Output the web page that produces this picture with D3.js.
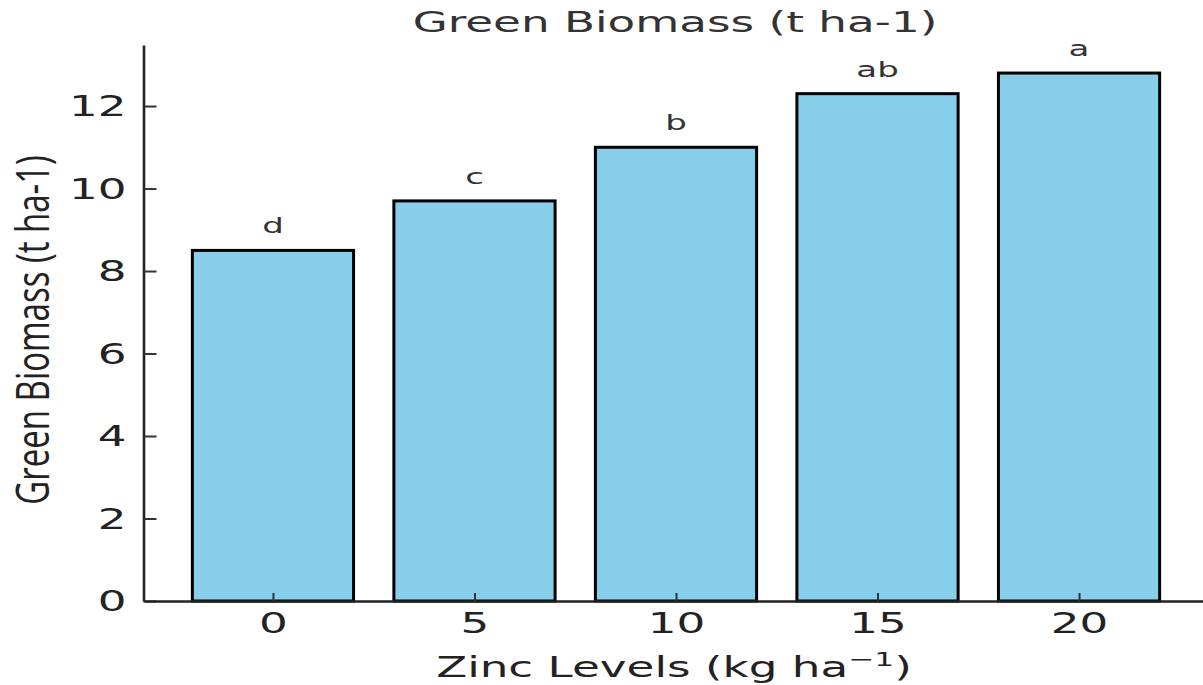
<!DOCTYPE html>
<html>
<head>
<meta charset="utf-8">
<script src="https://cdn.jsdelivr.net/npm/d3@7"></script>
<style>
  html, body { margin: 0; padding: 0; background: #fff; }
  svg { display: block; }
</style>
</head>
<body>
<svg id="chart" width="1203" height="685"></svg>
<script>
// ---- data ----
const zincLevels = ["0", "5", "10", "15", "20"];
const biomass = [8.5, 9.7, 11.0, 12.3, 12.8];
const sigLetters = ["d", "c", "b", "ab", "a"];
const yTickValues = [0, 2, 4, 6, 8, 10, 12];
const titleText = "Green Biomass (t ha-1)";
const yLabelText = "Green Biomass (t ha-1)";

// ---- layout ----
const W = 1203, H = 685;
const SX = 1.56; // horizontal stretch of text in the reference
const svg = d3.select("#chart");

const x = d3.scaleLinear().domain([-0.64, 4.64]).range([144, 1208]);
const y = d3.scaleLinear().domain([0, 13.48]).range([601, 45]);
const barW = 0.8;

// bars
svg.append("g").selectAll("rect")
  .data(biomass)
  .join("rect")
  .attr("x", (d, i) => x(i - barW / 2))
  .attr("width", (d, i) => x(i + barW / 2) - x(i - barW / 2))
  .attr("y", d => y(d))
  .attr("height", d => y(0) - y(d))
  .attr("fill", "#87CEEB")
  .attr("stroke", "#000")
  .attr("stroke-width", 3);

// significance letters
svg.append("g").selectAll("text")
  .data(biomass)
  .join("text")
  .attr("transform", (d, i) => `translate(${x(i)},${y(d) - 17}) scale(1.62,1)`)
  .attr("text-anchor", "middle")
  .attr("font-family", "DejaVu Sans")
  .attr("font-size", 21)
  .attr("fill", "#333")
  .text((d, i) => sigLetters[i]);

// y axis
const yAxis = svg.append("g")
  .attr("transform", `translate(${x(-0.64) - 0.5},0)`)
  .call(d3.axisLeft(y).tickValues(yTickValues).tickFormat(d3.format("d")).tickSize(-13).tickSizeOuter(0));
yAxis.select(".domain").attr("stroke", "#222").attr("stroke-width", 2.6);
yAxis.selectAll(".tick line").attr("stroke", "#333").attr("stroke-width", 2);
yAxis.selectAll(".tick text")
  .attr("x", null).attr("dy", null)
  .attr("transform", "translate(-17,0) scale(" + SX + ",1)")
  .attr("dominant-baseline", "central")
  .attr("text-anchor", "end")
  .attr("font-family", "DejaVu Sans")
  .attr("font-size", 29)
  .attr("fill", "#222");

// x axis
const xAxis = svg.append("g")
  .attr("transform", `translate(0,${y(0)})`)
  .call(d3.axisBottom(x).tickValues(d3.range(zincLevels.length)).tickFormat(i => zincLevels[i]).tickSize(-8).tickSizeOuter(0));
xAxis.select(".domain").attr("stroke", "#222").attr("stroke-width", 2.6);
xAxis.selectAll(".tick line").attr("stroke", "#333").attr("stroke-width", 2);
xAxis.selectAll(".tick text")
  .attr("y", null).attr("dy", null)
  .attr("transform", "translate(0,32) scale(" + SX + ",1)")
  .attr("text-anchor", "middle")
  .attr("font-family", "DejaVu Sans")
  .attr("font-size", 29)
  .attr("fill", "#222");
svg.selectAll("g").attr("font-family", null);

// title
svg.append("text")
  .attr("transform", `translate(675,32) scale(${SX},1)`)
  .attr("text-anchor", "middle")
  .attr("font-family", "DejaVu Sans")
  .attr("font-size", 29)
  .attr("fill", "#333")
  .text(titleText);

// x label
const xl = svg.append("text")
  .attr("transform", `translate(674,677) scale(${SX},1)`)
  .attr("text-anchor", "middle")
  .attr("font-family", "DejaVu Sans")
  .attr("font-size", 29)
  .attr("fill", "#222");
xl.append("tspan").text("Zinc Levels (kg ha");
xl.append("tspan").attr("font-size", 20).attr("dy", -11).text("\u22121");
xl.append("tspan").attr("dy", 11).text(")");

// y label
svg.append("text")
  .attr("transform", "translate(49,330) scale(1.38,1) rotate(-90)")
  .attr("text-anchor", "middle")
  .attr("font-family", "Open Sans")
  .attr("font-size", 33)
  .attr("fill", "#222")
  .text(yLabelText);
</script>
</body>
</html>
